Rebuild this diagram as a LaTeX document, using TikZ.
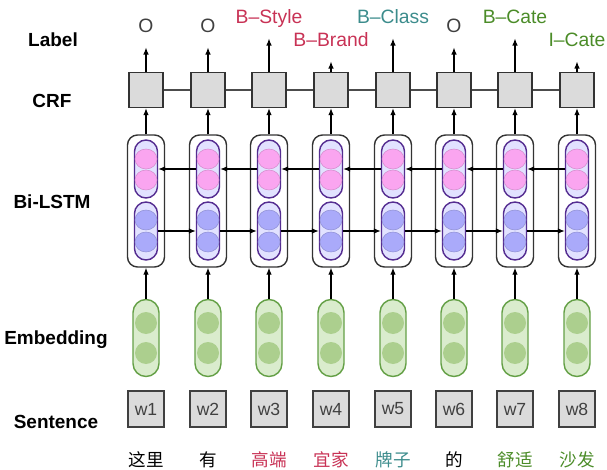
\documentclass[tikz,border=0pt]{standalone}
\usepackage{fontspec}
\setmainfont{Liberation Sans}
\newfontfamily\cjk{Noto Sans CJK SC}
\usetikzlibrary{positioning,shapes.geometric,arrows.meta}

\definecolor{tagred}{RGB}{200,50,85}
\definecolor{tagteal}{RGB}{60,140,140}
\definecolor{taggreen}{RGB}{75,140,40}
\definecolor{cellline}{RGB}{85,45,145}
\definecolor{cellfill}{RGB}{226,226,255}
\definecolor{unitpink}{RGB}{250,165,240}
\definecolor{unitblue}{RGB}{170,170,250}
\definecolor{embline}{RGB}{100,160,70}
\definecolor{embfill}{RGB}{218,236,205}
\definecolor{embunit}{RGB}{172,207,142}

\tikzset{
  rowlabel/.style={font=\bfseries\fontsize{10.8}{13}\selectfont},
  tag/.style={font=\fontsize{11}{13}\selectfont, anchor=base, inner xsep=0pt, inner ysep=2.8mm, text depth=0pt},
  crfbox/.style={draw=black!80, fill=black!14, line width=0.8pt, minimum width=6.8mm, minimum height=7mm, inner sep=0},
  lstmbox/.style={draw=black!80, fill=white, line width=0.8pt, rounded corners=2mm, minimum width=7.4mm, minimum height=26.4mm, inner sep=0},
  cell/.style={draw=cellline, fill=cellfill, line width=0.8pt, rounded corners=2.3mm, minimum width=4.6mm, minimum height=11.6mm, inner sep=0},
  bwdunit/.style={ellipse, fill=unitpink, draw=unitpink!85!black, line width=0.3pt, minimum width=4.4mm, minimum height=4mm, inner sep=0},
  fwdunit/.style={ellipse, fill=unitblue, draw=unitblue!85!black, line width=0.3pt, minimum width=4.4mm, minimum height=4mm, inner sep=0},
  embcell/.style={draw=embline, fill=embfill, line width=0.8pt, rounded corners=2.6mm, minimum width=5.2mm, minimum height=15.4mm, inner sep=0},
  embunit/.style={circle, fill=embunit, minimum size=4.4mm, inner sep=0},
  wordbox/.style={draw=black!75, fill=black!14, line width=0.8pt, minimum size=7.2mm, inner sep=0, text=black!75, font=\fontsize{10}{12}\selectfont},
  char/.style={font=\cjk\fontsize{10}{12}\selectfont}
}

\begin{document}
\begin{tikzpicture}[x=0.2mm, y=-0.2mm, >={Latex[length=1.4mm,width=1.1mm]}, line width=0.6pt]
\useasboundingbox (0,0) rectangle (607,470);

% row labels
\node[rowlabel] (row_label) at (53,40) {Label};
\node[rowlabel] (row_crf) at (52,101) {CRF};
\node[rowlabel] (row_lstm) at (52,202) {Bi-LSTM};
\node[rowlabel] (row_emb) at (56,340) {Embedding};
\node[rowlabel] (row_sent) at (56,422) {Sentence};

% sentence
\node[wordbox] (word_1) at (146,409) {w1};
\node[wordbox] (word_2) at (208,409) {w2};
\node[wordbox] (word_3) at (269,409) {w3};
\node[wordbox] (word_4) at (331,409) {w4};
\node[wordbox] (word_5) at (393,409) {w5};
\node[wordbox] (word_6) at (454,409) {w6};
\node[wordbox] (word_7) at (515,409) {w7};
\node[wordbox] (word_8) at (577,409) {w8};

\node[char] (char_1) at (146,460) {这里};
\node[char] (char_2) at (208,460) {有};
\node[char, text=tagred] (char_3) at (269,460) {高端};
\node[char, text=tagred] (char_4) at (331,460) {宜家};
\node[char, text=tagteal] (char_5) at (393,460) {牌子};
\node[char] (char_6) at (454,460) {的};
\node[char, text=taggreen] (char_7) at (515,460) {舒适};
\node[char, text=taggreen] (char_8) at (577,460) {沙发};

% embedding
\node[embcell] (emb_1) at (146,338) {};
\node[embunit] (emb_1_a) at (146,323) {};
\node[embunit] (emb_1_b) at (146,353) {};
\node[embcell] (emb_2) at (208,338) {};
\node[embunit] (emb_2_a) at (208,323) {};
\node[embunit] (emb_2_b) at (208,353) {};
\node[embcell] (emb_3) at (269,338) {};
\node[embunit] (emb_3_a) at (269,323) {};
\node[embunit] (emb_3_b) at (269,353) {};
\node[embcell] (emb_4) at (331,338) {};
\node[embunit] (emb_4_a) at (331,323) {};
\node[embunit] (emb_4_b) at (331,353) {};
\node[embcell] (emb_5) at (393,338) {};
\node[embunit] (emb_5_a) at (393,323) {};
\node[embunit] (emb_5_b) at (393,353) {};
\node[embcell] (emb_6) at (454,338) {};
\node[embunit] (emb_6_a) at (454,323) {};
\node[embunit] (emb_6_b) at (454,353) {};
\node[embcell] (emb_7) at (515,338) {};
\node[embunit] (emb_7_a) at (515,323) {};
\node[embunit] (emb_7_b) at (515,353) {};
\node[embcell] (emb_8) at (577,338) {};
\node[embunit] (emb_8_a) at (577,323) {};
\node[embunit] (emb_8_b) at (577,353) {};

% bi-lstm
\node[lstmbox] (lstm_1) at (146,201) {};
\node[cell] (bwd_1) at (146,169) {};
\node[bwdunit] (bwd_1_a) at (146,159) {};
\node[bwdunit] (bwd_1_b) at (146,180) {};
\node[cell] (fwd_1) at (146,231) {};
\node[fwdunit] (fwd_1_a) at (146,220) {};
\node[fwdunit] (fwd_1_b) at (146,242) {};
\node[lstmbox] (lstm_2) at (208,201) {};
\node[cell] (bwd_2) at (208,169) {};
\node[bwdunit] (bwd_2_a) at (208,159) {};
\node[bwdunit] (bwd_2_b) at (208,180) {};
\node[cell] (fwd_2) at (208,231) {};
\node[fwdunit] (fwd_2_a) at (208,220) {};
\node[fwdunit] (fwd_2_b) at (208,242) {};
\node[lstmbox] (lstm_3) at (269,201) {};
\node[cell] (bwd_3) at (269,169) {};
\node[bwdunit] (bwd_3_a) at (269,159) {};
\node[bwdunit] (bwd_3_b) at (269,180) {};
\node[cell] (fwd_3) at (269,231) {};
\node[fwdunit] (fwd_3_a) at (269,220) {};
\node[fwdunit] (fwd_3_b) at (269,242) {};
\node[lstmbox] (lstm_4) at (331,201) {};
\node[cell] (bwd_4) at (331,169) {};
\node[bwdunit] (bwd_4_a) at (331,159) {};
\node[bwdunit] (bwd_4_b) at (331,180) {};
\node[cell] (fwd_4) at (331,231) {};
\node[fwdunit] (fwd_4_a) at (331,220) {};
\node[fwdunit] (fwd_4_b) at (331,242) {};
\node[lstmbox] (lstm_5) at (393,201) {};
\node[cell] (bwd_5) at (393,169) {};
\node[bwdunit] (bwd_5_a) at (393,159) {};
\node[bwdunit] (bwd_5_b) at (393,180) {};
\node[cell] (fwd_5) at (393,231) {};
\node[fwdunit] (fwd_5_a) at (393,220) {};
\node[fwdunit] (fwd_5_b) at (393,242) {};
\node[lstmbox] (lstm_6) at (454,201) {};
\node[cell] (bwd_6) at (454,169) {};
\node[bwdunit] (bwd_6_a) at (454,159) {};
\node[bwdunit] (bwd_6_b) at (454,180) {};
\node[cell] (fwd_6) at (454,231) {};
\node[fwdunit] (fwd_6_a) at (454,220) {};
\node[fwdunit] (fwd_6_b) at (454,242) {};
\node[lstmbox] (lstm_7) at (515,201) {};
\node[cell] (bwd_7) at (515,169) {};
\node[bwdunit] (bwd_7_a) at (515,159) {};
\node[bwdunit] (bwd_7_b) at (515,180) {};
\node[cell] (fwd_7) at (515,231) {};
\node[fwdunit] (fwd_7_a) at (515,220) {};
\node[fwdunit] (fwd_7_b) at (515,242) {};
\node[lstmbox] (lstm_8) at (577,201) {};
\node[cell] (bwd_8) at (577,169) {};
\node[bwdunit] (bwd_8_a) at (577,159) {};
\node[bwdunit] (bwd_8_b) at (577,180) {};
\node[cell] (fwd_8) at (577,231) {};
\node[fwdunit] (fwd_8_a) at (577,220) {};
\node[fwdunit] (fwd_8_b) at (577,242) {};

% forward and backward passes
\draw[->] (fwd_1.east) -- (fwd_2.west);
\draw[->] (fwd_2.east) -- (fwd_3.west);
\draw[->] (fwd_3.east) -- (fwd_4.west);
\draw[->] (fwd_4.east) -- (fwd_5.west);
\draw[->] (fwd_5.east) -- (fwd_6.west);
\draw[->] (fwd_6.east) -- (fwd_7.west);
\draw[->] (fwd_7.east) -- (fwd_8.west);
\draw[->] (bwd_8.west) -- (bwd_7.east);
\draw[->] (bwd_7.west) -- (bwd_6.east);
\draw[->] (bwd_6.west) -- (bwd_5.east);
\draw[->] (bwd_5.west) -- (bwd_4.east);
\draw[->] (bwd_4.west) -- (bwd_3.east);
\draw[->] (bwd_3.west) -- (bwd_2.east);
\draw[->] (bwd_2.west) -- (bwd_1.east);

% crf
\node[crfbox] (crf_1) at (146,90) {};
\node[crfbox] (crf_2) at (208,90) {};
\node[crfbox] (crf_3) at (269,90) {};
\node[crfbox] (crf_4) at (331,90) {};
\node[crfbox] (crf_5) at (393,90) {};
\node[crfbox] (crf_6) at (454,90) {};
\node[crfbox] (crf_7) at (515,90) {};
\node[crfbox] (crf_8) at (577,90) {};
\draw[black!70] (crf_1.east) -- (crf_2.west);
\draw[black!70] (crf_2.east) -- (crf_3.west);
\draw[black!70] (crf_3.east) -- (crf_4.west);
\draw[black!70] (crf_4.east) -- (crf_5.west);
\draw[black!70] (crf_5.east) -- (crf_6.west);
\draw[black!70] (crf_6.east) -- (crf_7.west);
\draw[black!70] (crf_7.east) -- (crf_8.west);

% labels
\node[tag, text=black!75] (tag_1) at (146,33) {O};
\node[tag, text=black!75] (tag_2) at (208,33) {O};
\node[tag, text=tagred] (tag_3) at (269,24) {B–Style};
\node[tag, text=tagred] (tag_4) at (331,47) {B–Brand};
\node[tag, text=tagteal] (tag_5) at (393,24) {B–Class};
\node[tag, text=black!75] (tag_6) at (454,33) {O};
\node[tag, text=taggreen] (tag_7) at (515,24) {B–Cate};
\node[tag, text=taggreen] (tag_8) at (577,47) {I–Cate};

% vertical connections
\draw[->] (emb_1.north) -- (lstm_1.south);
\draw[->] (lstm_1.north) -- (crf_1.south);
\draw[->] (crf_1.north) -- (tag_1.south);
\draw[->] (emb_2.north) -- (lstm_2.south);
\draw[->] (lstm_2.north) -- (crf_2.south);
\draw[->] (crf_2.north) -- (tag_2.south);
\draw[->] (emb_3.north) -- (lstm_3.south);
\draw[->] (lstm_3.north) -- (crf_3.south);
\draw[->] (crf_3.north) -- (tag_3.south);
\draw[->] (emb_4.north) -- (lstm_4.south);
\draw[->] (lstm_4.north) -- (crf_4.south);
\draw[->] (crf_4.north) -- (tag_4.south);
\draw[->] (emb_5.north) -- (lstm_5.south);
\draw[->] (lstm_5.north) -- (crf_5.south);
\draw[->] (crf_5.north) -- (tag_5.south);
\draw[->] (emb_6.north) -- (lstm_6.south);
\draw[->] (lstm_6.north) -- (crf_6.south);
\draw[->] (crf_6.north) -- (tag_6.south);
\draw[->] (emb_7.north) -- (lstm_7.south);
\draw[->] (lstm_7.north) -- (crf_7.south);
\draw[->] (crf_7.north) -- (tag_7.south);
\draw[->] (emb_8.north) -- (lstm_8.south);
\draw[->] (lstm_8.north) -- (crf_8.south);
\draw[->] (crf_8.north) -- (tag_8.south);
\end{tikzpicture}
\end{document}
